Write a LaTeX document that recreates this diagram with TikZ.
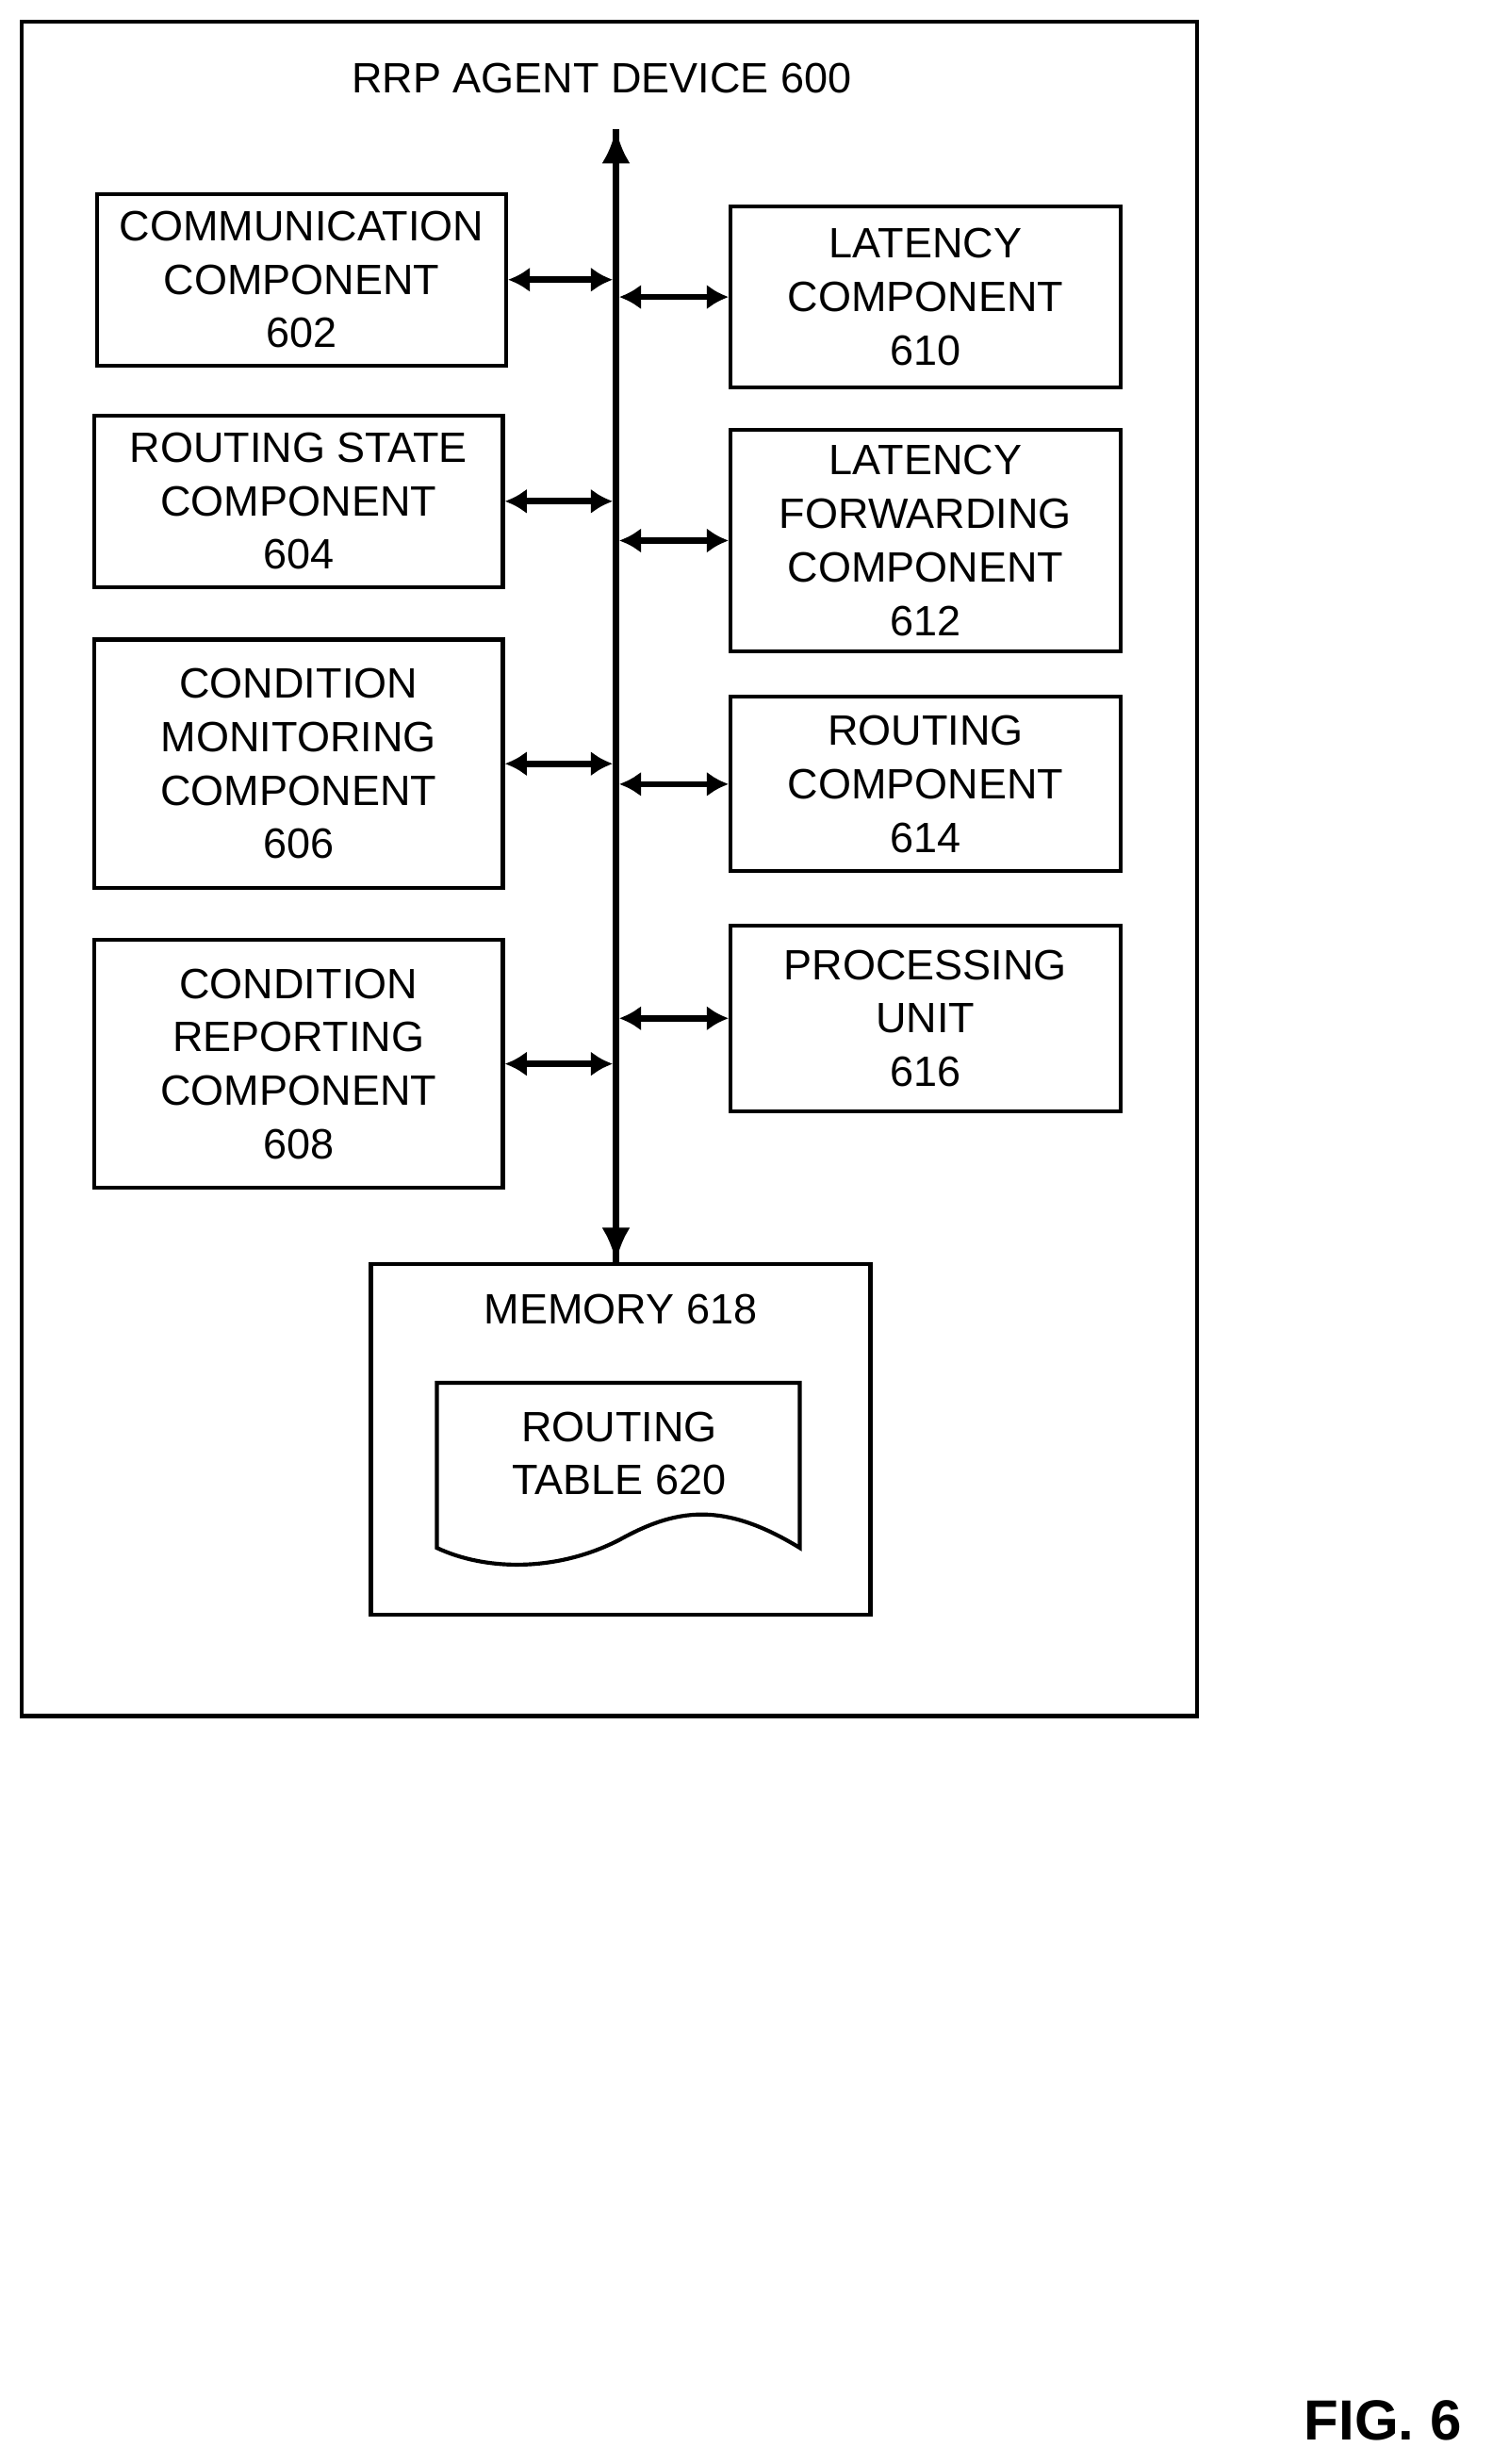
\documentclass[tikz,border=0pt]{standalone}
\usepackage{fontspec}
\setmainfont{Liberation Sans}
\usetikzlibrary{arrows.meta,positioning}
\begin{document}
\begin{tikzpicture}[x=1pt,y=-1pt,
comp/.style={draw, line width=2.5pt, align=center, inner sep=0pt,
  font=\fontsize{27}{34}\selectfont},
link/.style={line width=4pt, {Latex[length=14pt,width=16pt]}-{Latex[length=14pt,width=16pt]}},
bus/.style={line width=4pt, -{Latex[length=22pt,width=18pt]}}
]
\useasboundingbox (0,0) rectangle (950,1568);

\tikzstyle{lbl} = [font=\fontsize{27}{34}\selectfont]

% outer device
\draw[line width=2.5pt] (14,14) rectangle (762,1092);
\node[lbl] (title) at (383,50) {RRP AGENT DEVICE 600};

% left column
\node[comp, minimum width=260pt, minimum height=109pt] (c602) at (192,178) {COMMUNICATION\\COMPONENT\\602};
\node[comp, minimum width=260pt, minimum height=109pt] (c604) at (190,319) {ROUTING STATE\\COMPONENT\\604};
\node[comp, minimum width=260pt, minimum height=158pt] (c606) at (190,486) {CONDITION\\MONITORING\\COMPONENT\\606};
\node[comp, minimum width=260pt, minimum height=158pt] (c608) at (190,677) {CONDITION\\REPORTING\\COMPONENT\\608};

% right column
\node[comp, minimum width=248pt, minimum height=115pt] (c610) at (589,189) {LATENCY\\COMPONENT\\610};
\node[comp, minimum width=248pt, minimum height=141pt] (c612) at (589,344) {LATENCY\\FORWARDING\\COMPONENT\\612};
\node[comp, minimum width=248pt, minimum height=111pt] (c614) at (589,499) {ROUTING\\COMPONENT\\614};
\node[comp, minimum width=248pt, minimum height=118pt] (c616) at (589,648) {PROCESSING\\UNIT\\616};

% memory
\node[comp, minimum width=318pt, minimum height=223pt] (mem) at (395,916) {};
\node[lbl, below=17pt of mem.north] (memlbl) {MEMORY 618};
\draw[line width=2.5pt] (278,880) -- (509,880) -- (509,985)
  .. controls (460,955) and (430,960) .. (394,980)
  .. controls (355,1000) and (310,1000) .. (278,985) -- cycle;
\node[lbl, align=center] (table) at (394,925) {ROUTING\\TABLE 620};

% bus
\coordinate (bustop) at (392,82);
\draw[bus] (mem.north -| bustop) -- (bustop);
\draw[bus] (bustop) -- (mem.north -| bustop);

% links to the bus
\foreach \c in {c602,c604,c606,c608}
  \draw[link] (\c.east) -- ([xshift=-2pt]\c.east -| bustop);
\foreach \c in {c610,c612,c614,c616}
  \draw[link] ([xshift=2pt]\c.west -| bustop) -- (\c.west);

\node[font=\bfseries\fontsize{36}{40}\selectfont] (fig) at (880,1540) {FIG. 6};
\end{tikzpicture}
\end{document}
